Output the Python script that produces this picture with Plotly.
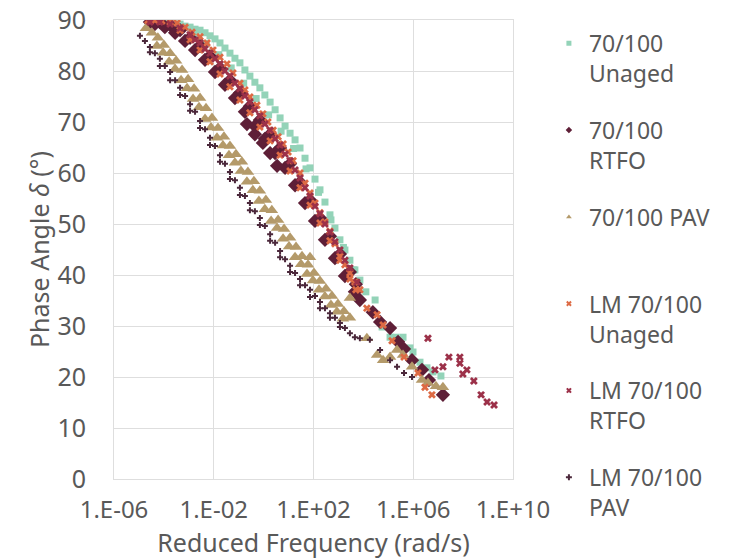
import plotly.graph_objects as go

# Master curves: log10 of reduced frequency (rad/s) and phase angle (degrees)
unaged_logf = [-4.56, -4.36, -4.16, -3.96, -3.75, -3.55, -3.35, -3.15, -2.95, -2.75,
               -2.55, -2.35, -2.15, -1.95, -1.75, -1.55, -1.35, -1.15, -0.95, -0.75,
               -0.55, -0.35, -0.15, 0.05, 0.26, 0.46, 0.66, 0.86, 1.06, 1.26,
               1.46, 1.66, 1.86, 2.06, 2.26, 2.46, 2.66, 2.86, 3.06, 3.26,
               3.46, 3.66, 3.86,
               -4.3, -3.8, -3.3, -2.8, -2.3, -1.8, -1.3, -0.8, -0.3, 0.2,
               0.7, 1.2, 1.7, 2.2, 2.7, 3.2, 3.6,
               4.10, 4.47, 4.75, 5.07, 5.31, 5.59, 5.87, 5.99, 6.27, 6.55, 6.79, 7.11]
unaged_delta = [89.6, 89.6, 89.6, 89.4, 89.4, 89.2, 89.2, 88.8, 88.6, 88.2,
                88.0, 87.5, 86.9, 86.3, 85.5, 84.5, 83.5, 82.5, 81.6, 80.2,
                79.0, 77.8, 76.7, 75.3, 73.9, 72.4, 70.8, 69.2, 67.8, 66.5,
                64.9, 62.9, 61.0, 58.8, 56.7, 54.3, 51.8, 49.2, 46.9, 44.9,
                42.9, 41.0, 39.0,
                89.4, 89.0, 88.4, 87.2, 85.4, 83.2, 80.6, 77.6, 74.6, 71.4,
                68.2, 64.8, 60.8, 56.2, 50.8, 45.4, 41.0,
                36.7, 35.1, 29.8, 27.8, 27.8, 27.8, 25.7, 24.9, 22.9, 21.8, 21.0, 20.2]

rtfo_logf = [-4.56, -4.16, -3.75, -3.35, -2.95, -2.55, -2.15, -1.75, -1.35, -0.95,
             -0.55, -0.15, 0.26, 0.66, 1.06, 1.46, 1.86, 2.26, 2.66, 3.06,
             3.46, 3.70,
             -4.36, -3.96, -3.55, -3.15, -2.75, -2.35, -1.95, -1.55, -1.15, -0.75,
             -0.35, 0.05, 0.46, 0.86, 1.26, 1.66, 2.06, 2.46, 2.86, 3.26,
             3.66, 3.86,
             -0.67, -0.35, -0.03, 0.26, 0.54,
             4.38, 4.67, 5.07, 5.39, 5.63, 5.95, 6.35, 6.63, 7.19]
rtfo_delta = [89.6, 89.6, 89.0, 88.0, 86.5, 84.9, 82.9, 80.6, 78.2, 75.7,
              73.1, 70.4, 67.6, 64.9, 61.8, 58.2, 54.7, 51.2, 47.6, 44.1,
              40.6, 38.2,
              89.2, 88.6, 87.5, 85.9, 84.1, 82.2, 79.8, 77.3, 74.7, 72.0,
              69.2, 66.7, 63.9, 61.0, 57.6, 54.1, 50.6, 46.9, 43.3, 39.8,
              36.7, 35.1,
              69.6, 67.6, 65.9, 63.9, 61.4,
              32.7, 30.8, 29.6, 26.9, 25.5, 23.3, 21.4, 19.4, 16.5]

pav_logf = [-4.72, -4.48, -4.24, -4.00, -3.75, -3.51, -3.27, -3.03, -2.79, -2.55,
            -2.31, -2.07, -1.83, -1.59, -1.35, -1.11, -0.87, -0.63, -0.39, -0.15,
            0.09, 0.33, 0.58, 0.82, 1.06, 1.30, 1.54, 1.78, 2.02, 2.26,
            2.50, 2.74, 2.98, 3.22, 3.46,
            -4.28, -4.03, -3.79, -3.55, -3.31, -3.07, -2.83, -2.59, -2.35, -2.11,
            -1.87, -1.63, -1.39, -1.15, -0.91, -0.67, -0.43, -0.19, 0.05, 0.30,
            0.54, 0.78, 1.02, 1.26, 1.50, 1.74, 1.98, 2.22, 2.46, 2.70,
            2.94, 3.18,
            1.86, 3.46,
            4.14, 4.55, 4.79, 5.07, 5.35, 5.59, 5.95, 6.35, 6.59, 6.91, 7.19]
pav_delta = [88.4, 87.5, 86.5, 85.1, 83.5, 82.0, 80.2, 78.4, 76.5, 74.7,
             72.7, 70.8, 68.8, 67.1, 65.3, 63.7, 62.2, 60.2, 58.4, 56.5,
             54.7, 52.7, 50.8, 49.0, 47.3, 45.5, 43.7, 42.0, 40.4, 38.8,
             37.3, 35.9, 34.3, 32.9, 31.6,
             84.9, 83.6, 81.8, 80.4, 78.2, 76.6, 74.5, 72.9, 70.6, 68.9,
             66.9, 65.4, 63.5, 62.0, 60.4, 58.3, 56.6, 54.5, 52.9, 50.6,
             49.2, 47.1, 45.6, 43.5, 42.1, 40.2, 38.9, 37.1, 35.8, 34.1,
             32.8, 31.4,
             43.5, 35.5,
             27.6, 24.3, 23.3, 23.9, 25.3, 24.3, 22.0, 19.4, 18.8, 18.2, 18.0]

lm_unaged_logf = [-4.64, -4.36, -4.08, -3.75, -3.47, -3.15, -2.87, -2.55, -2.27, -2.03,
                  -1.75, -1.47, -1.23, -0.95, -0.75, -0.55, -0.27, -0.03, 0.17, 0.38,
                  0.58, 0.78, 0.98, 1.18, 1.46, 1.66, 1.86, 2.06, 2.26, 2.46,
                  2.66, 2.86, 3.06, 3.26, 3.46, 3.66, 3.86,
                  -3.35, -2.95, -2.55, -2.15, -1.75, -1.35, -0.95, -0.55, -0.15, 0.26,
                  0.66, 1.06, 1.46, 1.86, 2.26, 2.66, 3.06, 3.46, 3.70,
                  4.14, 4.55, 4.79, 5.15, 5.63, 6.19, 6.47, 6.75]
lm_unaged_delta = [89.9, 89.9, 89.8, 89.6, 89.4, 88.6, 87.6, 86.7, 85.5, 84.1,
                   82.7, 81.4, 79.6, 77.6, 76.3, 74.9, 73.3, 71.6, 70.0, 68.4,
                   67.1, 65.7, 64.1, 62.4, 60.0, 58.0, 56.1, 54.1, 52.2, 50.4,
                   48.6, 46.1, 43.7, 42.0, 40.4, 38.6, 37.1,
                   88.0, 86.1, 84.1, 81.8, 79.4, 76.9, 74.3, 71.8, 69.0, 66.3,
                   63.5, 60.4, 57.1, 53.7, 50.2, 46.7, 42.9, 39.2, 37.1,
                   33.5, 32.2, 30.2, 27.1, 23.9, 20.8, 18.0, 16.5]

lm_rtfo_logf = [-4.56, -4.16, -3.75, -3.35, -2.95, -2.55, -2.15, -1.75, -1.35, -0.95,
                -0.55, -0.15, 0.26, 0.66, 1.06, 1.46, 1.86, 2.26, 2.66, 3.06,
                3.46, 3.74,
                -2.75, -2.35, -1.95, -1.55, -1.15, -0.75, -0.35, 0.05, 0.46, 0.86,
                1.26, 1.66, 2.06, 2.46, 2.86, 3.26,
                6.59, 6.87, 7.19, 7.43, 7.87, 7.87, 8.15, 7.99, 8.43, 8.72, 8.96, 9.24]
lm_rtfo_delta = [89.6, 89.6, 89.2, 88.4, 87.1, 85.5, 83.5, 81.4, 79.0, 76.5,
                 73.9, 71.2, 68.4, 65.5, 62.4, 59.0, 55.5, 52.0, 48.4, 44.9,
                 41.4, 38.6,
                 86.1, 84.3, 82.4, 80.0, 77.6, 75.1, 72.4, 69.6, 66.7, 63.7,
                 60.6, 57.1, 53.5, 50.0, 46.5, 42.9,
                 27.6, 21.4, 22.0, 23.9, 23.9, 22.7, 21.4, 20.6, 19.2, 16.5, 15.1, 14.5]

lm_pav_logf = [-4.96, -4.76, -4.56, -4.36, -4.16, -3.96, -3.75, -3.55, -3.35, -3.15,
               -2.95, -2.75, -2.55, -2.35, -2.15, -1.95, -1.75, -1.55, -1.35, -1.15,
               -0.95, -0.75, -0.55, -0.35, -0.15, 0.05, 0.26, 0.46, 0.66, 0.86,
               1.06, 1.26, 1.46, 1.66, 1.86, 2.06, 2.26, 2.46, 2.66, 2.86,
               3.06, 3.26, 3.46, 3.66, 3.86, 4.26, 4.67, 5.07, 5.35, 5.63, 5.95,
               -4.56, -4.16, -3.75, -3.35, -2.95, -2.55, -2.15, -1.75, -1.35, -0.95,
               -0.55, -0.15, 0.26, 0.66, 1.06, 1.46, 1.86, 2.26, 2.66, 3.06]
lm_pav_delta = [86.9, 85.9, 84.7, 83.5, 82.4, 81.0, 79.8, 78.2, 76.7, 75.1,
                73.5, 72.0, 70.2, 68.6, 66.9, 65.3, 63.5, 61.8, 60.2, 58.6,
                57.1, 55.5, 54.1, 52.5, 51.2, 49.6, 48.0, 46.3, 44.7, 43.1,
                41.8, 40.4, 39.2, 38.0, 37.1, 35.9, 34.7, 33.5, 32.5, 31.6,
                30.6, 29.6, 28.6, 27.8, 27.6, 27.3, 25.3, 23.3, 22.0, 20.8, 20.0,
                83.7, 81.0, 78.2, 75.3, 72.2, 68.8, 65.5, 62.2, 58.8, 55.7,
                52.7, 49.8, 46.7, 43.5, 40.6, 38.0, 35.7, 33.5, 31.6, 29.8]

series_names = ["70/100<br>Unaged", "70/100<br>RTFO", "70/100 PAV<br>\u00a0",
                "LM 70/100<br>Unaged", "LM 70/100<br>RTFO", "LM 70/100<br>PAV"]

x_tickvals = [1e-6, 1e-2, 1e2, 1e6, 1e10]
x_ticktext = ["1.E-06", "1.E-02", "1.E+02", "1.E+06", "1.E+10"]
y_tickvals = [0, 10, 20, 30, 40, 50, 60, 70, 80, 90]

series = [
    (unaged_logf, unaged_delta, dict(symbol="square", color="#93d3b8", size=7)),
    (rtfo_logf, rtfo_delta, dict(symbol="diamond", color="#5e1f37", size=11)),
    (pav_logf, pav_delta, dict(symbol="triangle-up", color="#b49a6a", size=11)),
    (lm_unaged_logf, lm_unaged_delta, dict(symbol="x", color="#dd6a44", size=7)),
    (lm_rtfo_logf, lm_rtfo_delta, dict(symbol="x", color="#9c3149", size=7)),
    (lm_pav_logf, lm_pav_delta, dict(symbol="cross", color="#4b283b", size=5)),
]

TEXT = "#595959"
GRID = "#dedede"
FONT = "Noto Sans"

fig = go.Figure()
for i, (lf, d, mk) in enumerate(series):
    fig.add_trace(go.Scatter(
        x=[10 ** v for v in lf], y=d, mode="markers",
        marker=dict(symbol=mk["symbol"], color=mk["color"], size=mk["size"],
                    line=dict(width=0)),
        showlegend=False, hoverinfo="skip"))
# legend entries with small symbols
for i, (lf, d, mk) in enumerate(series):
    fig.add_trace(go.Scatter(
        x=[None], y=[None], mode="markers", name=series_names[i],
        legendgroup=str(i),
        marker=dict(symbol=mk["symbol"], color=mk["color"], size=5, line=dict(width=0))))

fig.update_layout(
    width=748, height=559,
    margin=dict(l=114, r=235, t=20, b=80, autoexpand=False),
    paper_bgcolor="white", plot_bgcolor="white",
    font=dict(family=FONT, size=23, color=TEXT),
    legend=dict(x=1.09, y=0.996, xanchor="left", yanchor="top",
                valign="top", tracegroupgap=24, maxheight=559,
                font=dict(family=FONT, size=23, color=TEXT),
                bgcolor="rgba(0,0,0,0)"),
    xaxis=dict(type="log", range=[-6, 10], tickvals=x_tickvals, ticktext=x_ticktext,
               showgrid=True, gridcolor=GRID, gridwidth=1,
               showline=True, linecolor=GRID, linewidth=1, mirror=True,
               ticks="", ticklabelstandoff=9, zeroline=False,
               tickfont=dict(size=24, color=TEXT),
               title=dict(text="Reduced Frequency (rad/s)", standoff=6,
                          font=dict(size=25, color=TEXT))),
    yaxis=dict(range=[0, 90], tickvals=y_tickvals,
               showgrid=True, gridcolor=GRID, gridwidth=1,
               showline=True, linecolor=GRID, linewidth=1, mirror=True,
               ticks="", ticklabelstandoff=22, zeroline=False,
               tickfont=dict(size=25, color=TEXT),
               title=dict(text="Phase Angle <i>δ</i> (°)", standoff=0,
                          font=dict(size=25, color=TEXT))),
)

fig.write_html("out.html")
